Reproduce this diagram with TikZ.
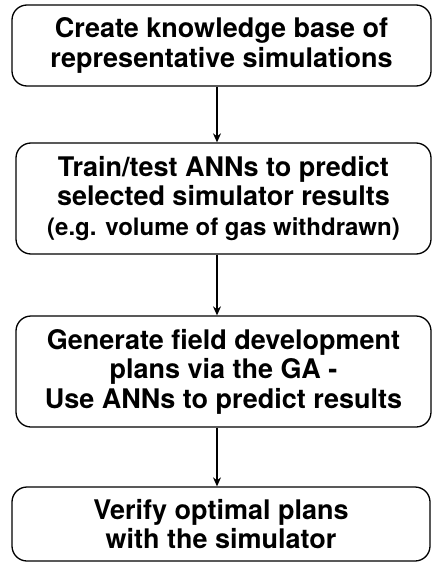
\documentclass[tikz,border=0pt]{standalone}
\usepackage{fontspec}
\setmainfont{TeX Gyre Heros}
\usetikzlibrary{arrows.meta}
\begin{document}
\begin{tikzpicture}[x=1pt,y=-1pt,
  box/.style={draw=black, line width=1.3pt, rounded corners=15pt, align=center, inner sep=0pt,
    font=\bfseries\fontsize{27}{29.5}\selectfont, text=black},
  arr/.style={-{Stealth[length=9pt,width=8pt]}, line width=1.2pt}]
\useasboundingbox (0,0) rectangle (432,562);
\coordinate (ax) at (217,0);
\node[box, minimum width=419pt, minimum height=81pt] (b1) at (221.5,45.5)
  {Create knowledge base of\\representative simulations};
\node[box, minimum width=415pt, minimum height=111pt] (b2) at (223.5,198.5)
  {Train/test ANNs to predict\\selected simulator results\\{\fontsize{24}{29}\selectfont (e.g. volume of gas withdrawn)}};
\node[box, minimum width=415pt, minimum height=111pt] (b3) at (223.5,371.5)
  {Generate field development\\plans via the GA -\\Use ANNs to predict results};
\node[box, minimum width=418pt, minimum height=74pt] (b4) at (221,524)
  {Verify optimal plans\\with the simulator};
\draw[arr] (b1.south -| ax) -- (b2.north -| ax);
\draw[arr] (b2.south -| ax) -- (b3.north -| ax);
\draw[arr] (b3.south -| ax) -- (b4.north -| ax);
\end{tikzpicture}
\end{document}
